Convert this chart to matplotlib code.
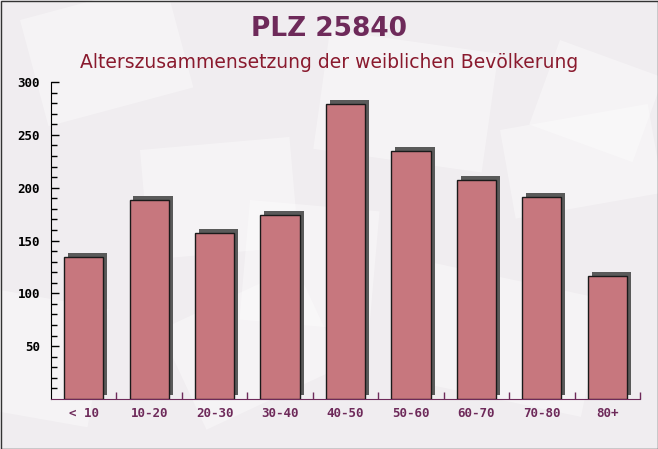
import matplotlib
matplotlib.use('Agg')
import matplotlib.pyplot as plt
import matplotlib.patches as patches
import matplotlib.transforms as mtrans
import numpy as np

W, H = 658, 449

categories = ['< 10', '10-20', '20-30', '30-40', '40-50', '50-60', '60-70', '70-80', '80+']
values = [134, 188, 157, 174, 279, 235, 207, 191, 116]
yticks = [50, 100, 150, 200, 250, 300]

TITLE = 'PLZ 25840'
SUBTITLE = 'Alterszusammensetzung der weiblichen Bevölkerung'

BG = '#f0edf0'
BAR = '#c7777e'
PURPLE = '#6e2a5a'
DARKRED = '#8a1a2e'

fig = plt.figure(figsize=(W / 100, H / 100), dpi=100)
fig.patch.set_facecolor(BG)

# faint envelope-like shapes in the background
bgax = fig.add_axes([0, 0, 1, 1])
bgax.set_xlim(0, W)
bgax.set_ylim(H, 0)
bgax.axis('off')
for (x, y, w, h, a) in [(20, 20, 150, 110, -15), (330, 30, 170, 120, 8), (140, 150, 150, 110, -5),
                        (420, 260, 190, 120, 12), (160, 330, 150, 110, -25), (560, 40, 110, 90, 20),
                        (0, 290, 110, 120, 10), (500, 130, 150, 90, -10), (250, 200, 130, 120, 5)]:
  r = patches.Rectangle((x, y), w, h, angle=a, facecolor='white', alpha=0.35, edgecolor='none')
  bgax.add_patch(r)
bgax.add_patch(patches.Rectangle((0.5, 0.5), W - 1, H - 1, fill=False, edgecolor='#333333', linewidth=1))

ax = fig.add_axes([51 / W, 50 / H, 589 / W, 317 / H])
ax.set_facecolor('none')
x = np.arange(len(categories))
bw = 0.6
# shadow (3d side), shifted right and up
shift = ax.transData + mtrans.ScaledTranslation(0, 4 / 100, fig.dpi_scale_trans)
ax.bar(x + 0.06, values, bw, color='#5a5a5a', zorder=2, transform=shift)
ax.bar(x, values, bw, color=BAR, edgecolor='#1a1a1a', linewidth=1, zorder=3)

ax.set_xlim(-0.5, len(categories) - 0.5)
ax.set_ylim(0, 300)
ax.set_yticks(yticks)
ax.set_yticks(np.arange(10, 300, 10), minor=True)
ax.set_xticks(x)
ax.set_xticklabels(categories)
ax.set_xticks(np.arange(0.5, len(categories), 1), minor=True)
ax.tick_params(axis='y', which='major', direction='in', length=6, width=1, colors='black',
               labelsize=9, pad=8)
ax.tick_params(axis='y', which='minor', direction='in', length=4, width=1, color='black')
ax.tick_params(axis='x', which='major', length=0, labelsize=9, labelcolor=PURPLE, pad=6)
ax.tick_params(axis='x', which='minor', direction='in', length=5, width=1, color=PURPLE)
for lab in ax.get_yticklabels():
  lab.set_fontfamily('DejaVu Sans Mono')
  lab.set_fontweight('bold')
for lab in ax.get_xticklabels():
  lab.set_fontfamily('DejaVu Sans Mono')
  lab.set_fontweight('bold')
for s in ['top', 'right']:
  ax.spines[s].set_visible(False)
ax.spines['left'].set_color('black')
ax.spines['bottom'].set_color(PURPLE)

fig.text(0.5, 1 - 29 / H, TITLE, ha='center', va='center', fontsize=19, fontweight='bold', color=PURPLE)
fig.text(0.5, 1 - 62 / H, SUBTITLE, ha='center', va='center', fontsize=13.5, color=DARKRED)

fig.savefig('out.png', dpi=100, facecolor=BG)
